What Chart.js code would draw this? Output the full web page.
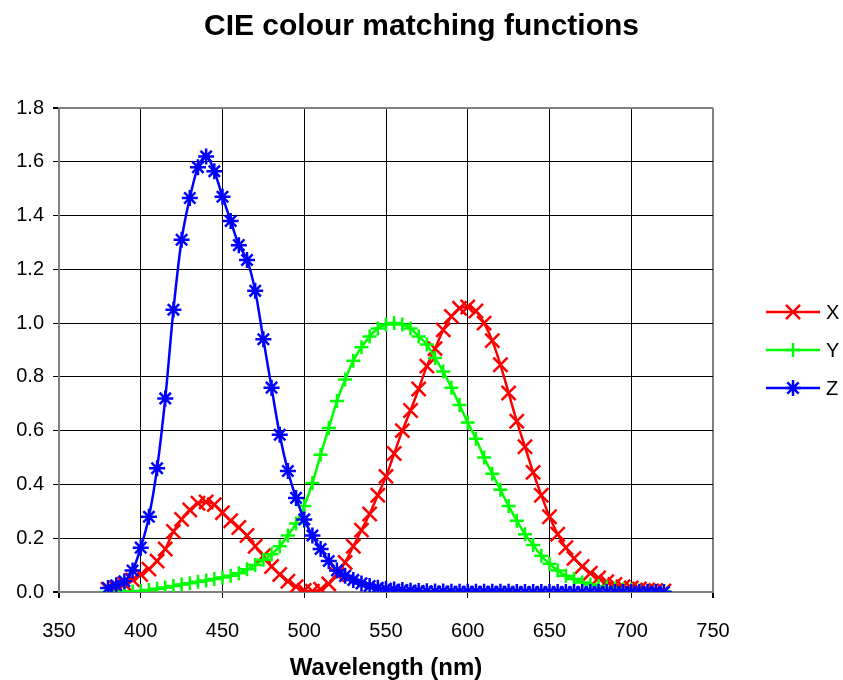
<!DOCTYPE html>
<html>
<head>
<meta charset="utf-8">
<script src="https://cdn.jsdelivr.net/npm/chart.js@4.4.1/dist/chart.umd.min.js"></script>
<style>
    html, body { margin: 0; padding: 0; background: white; }
    #wrap { width: 843px; height: 680px; }
</style>
</head>
<body>
<div id="wrap"><canvas id="cie"></canvas></div>
<script>
const longitudes = [380, 385, 390, 395, 400, 405, 410, 415, 420, 425, 430, 435, 440, 445, 450, 455, 460, 465, 470, 475,
    480, 485, 490, 495, 500, 505, 510, 515, 520, 525, 530, 535, 540, 545, 550, 555, 560, 565, 570, 575,
    580, 585, 590, 595, 600, 605, 610, 615, 620, 625, 630, 635, 640, 645, 650, 655, 660, 665, 670, 675,
    680, 685, 690, 695, 700, 705, 710, 715, 720];

const valoresX = [0.01, 0.015, 0.03, 0.045, 0.065, 0.085, 0.115, 0.16, 0.225, 0.27, 0.305, 0.33, 0.335, 0.325, 0.295, 0.265, 0.24, 0.21, 0.17, 0.135,
    0.095, 0.065, 0.04, 0.02, 0.006, 0.003, 0.01, 0.03, 0.065, 0.11, 0.17, 0.23, 0.29, 0.36, 0.43, 0.515, 0.6, 0.675, 0.755, 0.84,
    0.905, 0.975, 1.025, 1.055, 1.06, 1.045, 1.0, 0.935, 0.845, 0.74, 0.635, 0.54, 0.445, 0.36, 0.28, 0.215, 0.165, 0.125, 0.095, 0.07,
    0.052, 0.038, 0.028, 0.02, 0.015, 0.011, 0.008, 0.006, 0.004];

const valoresY = [0.0, 0.0, 0.001, 0.002, 0.004, 0.007, 0.012, 0.017, 0.022, 0.028, 0.033, 0.038, 0.043, 0.048, 0.054, 0.06, 0.07, 0.085, 0.1, 0.12,
    0.14, 0.17, 0.21, 0.255, 0.32, 0.405, 0.51, 0.61, 0.71, 0.79, 0.86, 0.91, 0.95, 0.98, 0.995, 1.0, 0.995, 0.98, 0.95, 0.92,
    0.87, 0.82, 0.76, 0.695, 0.63, 0.57, 0.5, 0.44, 0.38, 0.32, 0.265, 0.215, 0.175, 0.135, 0.105, 0.08, 0.06, 0.048, 0.035, 0.028,
    0.022, 0.017, 0.013, 0.01, 0.008, 0.006, 0.005, 0.004, 0.003];

const valoresZ = [0.015, 0.025, 0.04, 0.08, 0.165, 0.28, 0.46, 0.72, 1.05, 1.31, 1.465, 1.58, 1.62, 1.565, 1.47, 1.38, 1.29, 1.235, 1.12, 0.94,
    0.76, 0.585, 0.45, 0.35, 0.27, 0.21, 0.16, 0.115, 0.08, 0.06, 0.045, 0.032, 0.022, 0.016, 0.012, 0.009, 0.007, 0.005, 0.004, 0.003,
    0.002, 0.002, 0.001, 0.001, 0.001, 0.001, 0.001, 0.001, 0.001, 0.001, 0.0, 0.0, 0.0, 0.0, 0.0, 0.0, 0.0, 0.0, 0.0, 0.0,
    0.0, 0.0, 0.0, 0.0, 0.0, 0.0, 0.0, 0.0, 0.0];

const series = ["X", "Y", "Z"];
const ticksX = [350, 400, 450, 500, 550, 600, 650, 700, 750];
const ticksY = [0, 0.2, 0.4, 0.6, 0.8, 1.0, 1.2, 1.4, 1.6, 1.8];
const titulo = "CIE colour matching functions";

const fuente = "'Liberation Sans', Arial, sans-serif";

function puntos(valores) {
    return longitudes.map((l, i) => ({ x: l, y: valores[i] }));
}

// titulo centrado en todo el canvas (el de Chart.js se corre por el padding derecho)
const tituloCentrado = {
    id: "tituloCentrado",
    afterDraw(chart) {
        const ctx = chart.ctx;
        ctx.save();
        ctx.fillStyle = "black";
        ctx.font = "bold 30px " + fuente;
        ctx.textAlign = "center";
        ctx.textBaseline = "middle";
        ctx.fillText(titulo, chart.width / 2, 27);
        ctx.restore();
    }
};

// leyenda a la derecha: linea + marcador + texto
const leyendaLateral = {
    id: "leyendaLateral",
    afterDraw(chart) {
        const ctx = chart.ctx;
        const filas = [312, 350, 388];
        ctx.save();
        chart.data.datasets.forEach((ds, i) => {
            const y = filas[i];
            ctx.strokeStyle = ds.borderColor;
            ctx.lineWidth = 2.5;
            ctx.beginPath();
            ctx.moveTo(766, y);
            ctx.lineTo(820, y);
            ctx.stroke();
            Chart.helpers.drawPoint(ctx, {
                pointStyle: ds.pointStyle,
                radius: ds.pointRadius,
                borderWidth: ds.pointBorderWidth,
                rotation: 0
            }, 793, y);
            ctx.fillStyle = "black";
            ctx.font = "20px " + fuente;
            ctx.textBaseline = "middle";
            ctx.textAlign = "left";
            ctx.fillText(ds.label, 826, y + 1);
        });
        ctx.restore();
    }
};

const colores = ["#ff0000", "#00ff00", "#0000ff"];
const estilos = ["crossRot", "cross", "star"];
const radios = [10, 7, 8];
const todos = [valoresX, valoresY, valoresZ];

const datasets = series.map((s, i) => ({
    label: s,
    data: puntos(todos[i]),
    borderColor: colores[i],
    backgroundColor: colores[i],
    borderWidth: 2.5,
    pointStyle: estilos[i],
    pointRadius: radios[i],
    pointBorderWidth: 2.5,
    pointBorderColor: colores[i],
    cubicInterpolationMode: "monotone",
    order: 3 - i
}));

const gris = "#808080";

new Chart(document.getElementById("cie").getContext("2d"), {
    type: "line",
    data: { datasets },
    plugins: [tituloCentrado, leyendaLateral],
    options: {
        responsive: true,
        maintainAspectRatio: false,
        animation: false,
        layout: { padding: { top: 108, right: 130, left: 0, bottom: 0 } },
        scales: {
            x: {
                type: "linear",
                min: 350,
                max: 750,
                afterBuildTicks: s => { s.ticks = ticksX.map(v => ({ value: v })); },
                afterFit: s => { s.height = 88; },
                ticks: {
                    color: "black",
                    font: { size: 20, family: fuente },
                    padding: 21,
                    maxRotation: 0
                },
                grid: {
                    color: c => (c.tick && (c.tick.value === 350 || c.tick.value === 750)) ? gris : "black",
                    lineWidth: c => (c.tick && (c.tick.value === 350 || c.tick.value === 750)) ? 2 : 1,
                    tickLength: 6,
                    tickColor: "black"
                },
                border: { color: gris, width: 2 },
                title: {
                    display: true,
                    text: "Wavelength (nm)",
                    color: "black",
                    font: { size: 24, weight: "bold", family: fuente },
                    padding: { top: 0, bottom: -3 }
                }
            },
            y: {
                min: 0,
                max: 1.8,
                afterBuildTicks: s => { s.ticks = ticksY.map(v => ({ value: v })); },
                afterFit: s => { s.width = 59; },
                ticks: {
                    color: "black",
                    font: { size: 20, family: fuente },
                    padding: 9,
                    callback: v => v.toFixed(1)
                },
                grid: {
                    color: c => (c.tick && (c.tick.value === 0 || c.tick.value === 1.8)) ? gris : "black",
                    lineWidth: c => (c.tick && (c.tick.value === 0 || c.tick.value === 1.8)) ? 2 : 1,
                    tickLength: 6,
                    tickColor: "black"
                },
                border: { color: gris, width: 2 }
            }
        },
        plugins: {
            legend: { display: false },
            tooltip: { enabled: false },
            title: { display: false }
        }
    }
});
</script>
</body>
</html>
